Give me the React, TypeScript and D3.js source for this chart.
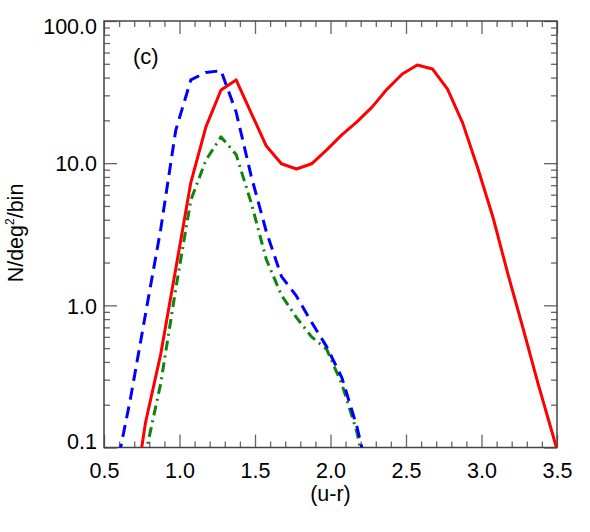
import React, { useEffect, useRef } from 'react';
import * as d3 from 'd3';

// colour bins (u-r), one value per bin for each sample; null = no point
const bins = [
  0.575, 0.675, 0.775, 0.875, 0.975, 1.075, 1.175, 1.275, 1.375, 1.475,
  1.575, 1.675, 1.775, 1.875, 1.975, 2.075, 2.175, 2.275, 2.375, 2.475,
  2.575, 2.675, 2.775, 2.875, 2.975, 3.075, 3.175, 3.275, 3.375, 3.475, 3.575,
];

const redValues = [
  null, 0.03, 0.15, 0.45, 1.8, 7.3, 18, 32.7, 38.5, 22.5,
  13.2, 9.9, 9.1, 9.9, 12.4, 15.8, 19.5, 24.8, 33.2, 42.4,
  49, 46, 33.2, 19.2, 9.25, 4.2, 1.66, 0.69, 0.28, 0.12, 0.05,
];

const blueValues = [
  0.065, 0.22, 0.87, 3.4, 17, 38.5, 43.5, 44.7, 22.9, 8.1,
  3.3, 1.6, 1.16, 0.76, 0.51, 0.31, 0.14, 0.05, null, null,
  null, null, null, null, null, null, null, null, null, null, null,
];

const greenValues = [
  null, 0.01, 0.09, 0.28, 1.3, 5.5, 10.5, 15.3, 11.5, 5.25,
  2.1, 1.18, 0.82, 0.6, 0.49, 0.28, 0.128, 0.04, null, null,
  null, null, null, null, null, null, null, null, null, null, null,
];

const xTicks = [0.5, 1.0, 1.5, 2.0, 2.5, 3.0, 3.5];
const yTicks = [0.1, 1, 10, 100];

const width = 590;
const height = 532;
const margin = { top: 21, right: 33, bottom: 84.5, left: 104 };
const font = '"Liberation Sans", Arial, Helvetica, sans-serif';
const labelSize = 21.5;

const App = () => {
  const chartRef = useRef(null);

  useEffect(() => {
    const svg = d3.select(chartRef.current);
    svg.selectAll('*').remove();

    const x = d3.scaleLinear()
      .domain([0.5, 3.5])
      .range([margin.left, width - margin.right]);

    const y = d3.scaleLog()
      .domain([0.1, 100])
      .range([height - margin.bottom, margin.top]);

    const xMinor = d3.range(5, 36).map(d => d / 10).filter(d => !xTicks.some(t => Math.abs(t - d) < 1e-6));
    const yMinor = [];
    [0.1, 1, 10].forEach(dec => d3.range(2, 10).forEach(k => yMinor.push(dec * k)));

    const tickColor = '#666';

    const styleAxis = (g) => {
      g.select('.domain').remove();
      g.selectAll('.tick line').attr('stroke', tickColor).attr('stroke-width', 1.3);
      g.selectAll('.tick text')
        .attr('fill', 'black')
        .attr('font-family', font)
        .attr('font-size', labelSize);
    };

    const bottom = height - margin.bottom;
    const right = width - margin.right;

    // bottom axis
    svg.append('g')
      .attr('transform', `translate(0, ${bottom})`)
      .call(d3.axisBottom(x).tickValues(xTicks).tickSize(-13).tickPadding(15).tickFormat(d3.format('.1f')))
      .call(styleAxis);
    svg.append('g')
      .attr('transform', `translate(0, ${bottom})`)
      .call(d3.axisBottom(x).tickValues(xMinor).tickSize(-6).tickFormat(() => ''))
      .call(styleAxis);

    // top axis
    svg.append('g')
      .attr('transform', `translate(0, ${margin.top})`)
      .call(d3.axisTop(x).tickValues(xTicks).tickSize(-13).tickFormat(() => ''))
      .call(styleAxis);
    svg.append('g')
      .attr('transform', `translate(0, ${margin.top})`)
      .call(d3.axisTop(x).tickValues(xMinor).tickSize(-6).tickFormat(() => ''))
      .call(styleAxis);

    // left axis
    svg.append('g')
      .attr('transform', `translate(${margin.left}, 0)`)
      .call(d3.axisLeft(y).tickValues(yTicks).tickSize(-13).tickPadding(7).tickFormat(d3.format('.1f')))
      .call(styleAxis)
      .call(g => g.selectAll('.tick text')
        .attr('dy', d => (d === 100 ? '0.57em' : d === 0.1 ? '0.04em' : '0.36em')));
    svg.append('g')
      .attr('transform', `translate(${margin.left}, 0)`)
      .call(d3.axisLeft(y).tickValues(yMinor).tickSize(-6).tickFormat(() => ''))
      .call(styleAxis);

    // right axis
    svg.append('g')
      .attr('transform', `translate(${right}, 0)`)
      .call(d3.axisRight(y).tickValues(yTicks).tickSize(-13).tickFormat(() => ''))
      .call(styleAxis);
    svg.append('g')
      .attr('transform', `translate(${right}, 0)`)
      .call(d3.axisRight(y).tickValues(yMinor).tickSize(-6).tickFormat(() => ''))
      .call(styleAxis);

    // frame
    svg.append('rect')
      .attr('x', margin.left)
      .attr('y', margin.top)
      .attr('width', right - margin.left)
      .attr('height', bottom - margin.top)
      .attr('fill', 'none')
      .attr('stroke', '#444')
      .attr('stroke-width', 1.5);

    // curves
    svg.append('clipPath')
      .attr('id', 'plot-clip')
      .append('rect')
      .attr('x', margin.left)
      .attr('y', margin.top)
      .attr('width', right - margin.left)
      .attr('height', bottom - margin.top);

    const series = [
      { values: greenValues, color: '#0b850b', dash: '10,5,2,5' },
      { values: blueValues, color: '#0000ff', dash: '12,7' },
      { values: redValues, color: '#ff0000', dash: null },
    ];

    const line = d3.line()
      .defined(d => d[1] != null)
      .x(d => x(d[0]))
      .y(d => y(d[1]));

    const curves = svg.append('g').attr('clip-path', 'url(#plot-clip)');
    series.forEach(s => {
      curves.append('path')
        .datum(bins.map((b, i) => [b, s.values[i]]))
        .attr('fill', 'none')
        .attr('stroke', s.color)
        .attr('stroke-width', 3)
        .attr('stroke-linejoin', 'round')
        .attr('stroke-dasharray', s.dash)
        .attr('d', line);
    });

    // panel label
    svg.append('text')
      .attr('x', 133)
      .attr('y', 63.5)
      .attr('font-family', font)
      .attr('font-size', 22)
      .text('(c)');

    // axis titles
    svg.append('text')
      .attr('x', (margin.left + right) / 2)
      .attr('y', 501)
      .attr('text-anchor', 'middle')
      .attr('font-family', font)
      .attr('font-size', labelSize)
      .text('(u-r)');

    const yTitle = svg.append('text')
      .attr('transform', 'translate(23, 233) rotate(-90)')
      .attr('text-anchor', 'middle')
      .attr('font-family', font)
      .attr('font-size', labelSize);
    yTitle.append('tspan').text('N/deg');
    yTitle.append('tspan').attr('font-size', 12).attr('dy', -9).text('2');
    yTitle.append('tspan').attr('dy', 9).text('/bin');
  });

  return (
    <div style={{ position: 'absolute', left: 0, top: 0, background: 'white' }}>
      <svg
        viewBox={`0 0 ${width} ${height}`}
        width={width}
        height={height}
        ref={chartRef}
        style={{ display: 'block' }}
      />
    </div>
  );
};

export default App;
